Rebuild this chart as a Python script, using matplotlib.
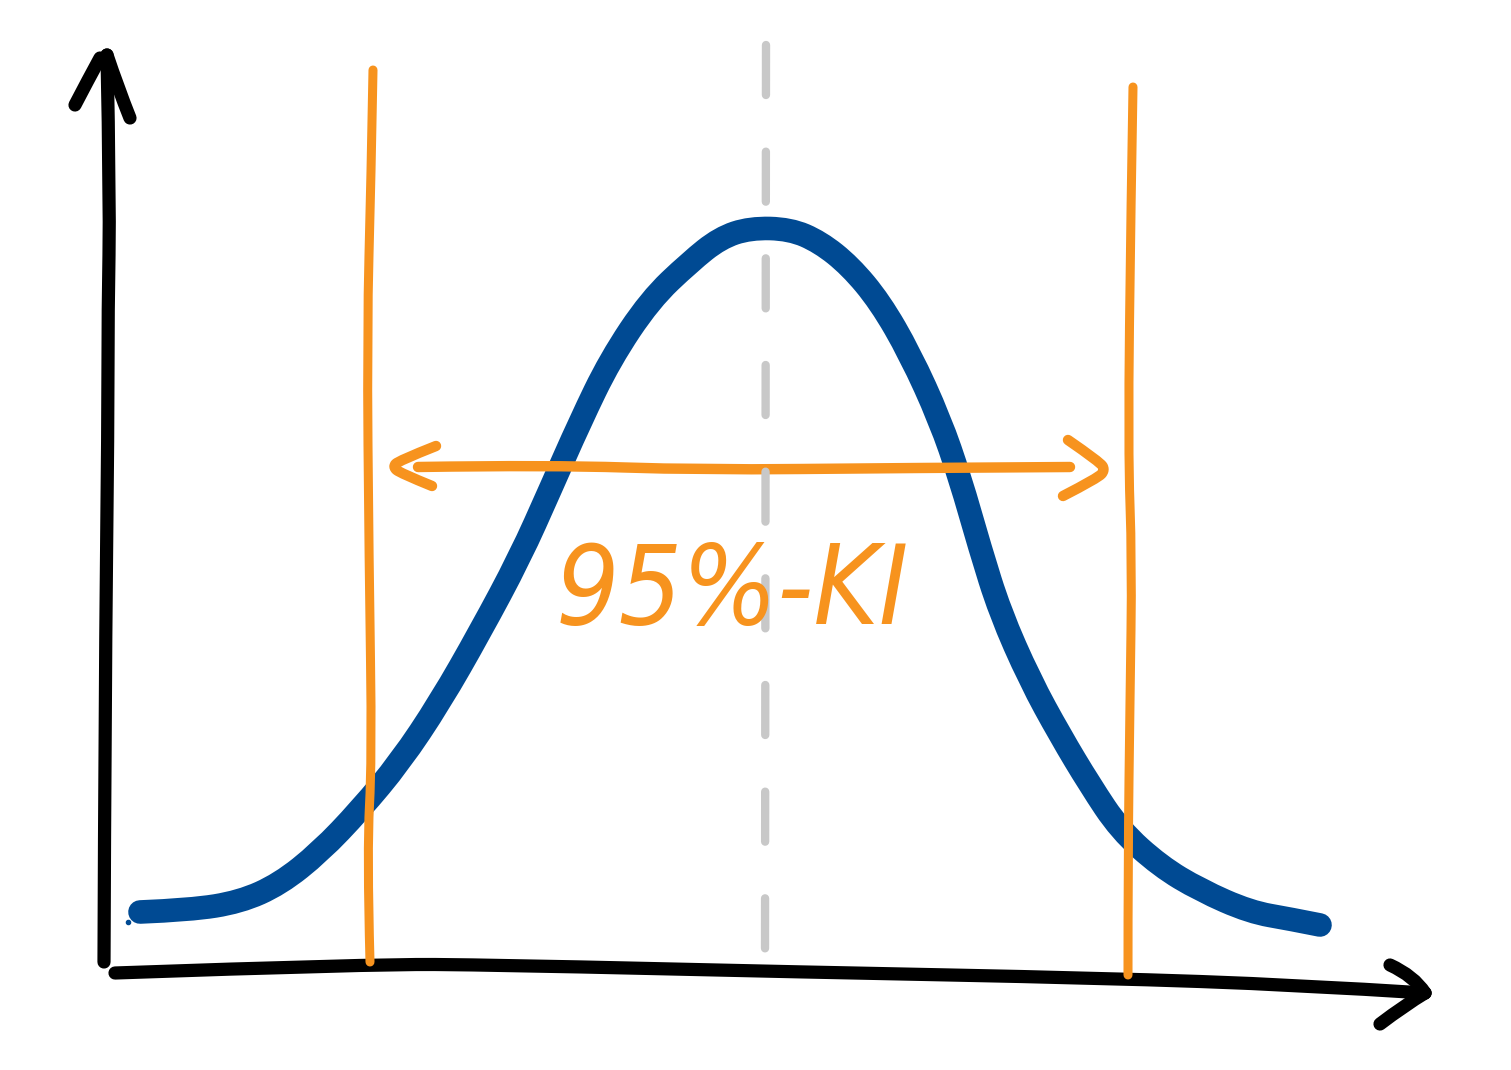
import matplotlib.pyplot as plt
from matplotlib.path import Path
from matplotlib.patches import PathPatch

# hand-sketched normal curve with a 95% confidence interval (sketch coordinates, y downwards)

curve_x = [140, 190, 240, 280, 320, 360, 400, 440, 480, 520, 550, 580, 610, 650, 690, 720,
           750, 790, 820, 850, 880, 910, 940, 960, 980, 1000, 1030, 1060, 1090, 1120, 1160,
           1200, 1250, 1290, 1320]
curve_y = [912, 910, 902, 884, 852, 810, 762, 702, 632, 557, 490, 422, 360, 300, 262, 238,
           228, 229, 242, 266, 302, 354, 420, 478, 548, 612, 680, 735, 785, 830, 866,
           890, 912, 919, 925]

yaxis_x = [104, 105, 108, 108, 110, 107]
yaxis_y = [962, 700, 420, 310, 200, 55]
xaxis_x = [115, 370, 500, 800, 1100, 1300, 1425]
xaxis_y = [973, 964, 965, 972, 978, 985, 993]

ci_left_x = [373, 371, 367, 369, 372, 367, 370]
ci_left_y = [70, 180, 330, 560, 760, 850, 962]
ci_right_x = [1133, 1131, 1128, 1132, 1130, 1128, 1128]
ci_right_y = [87, 200, 450, 560, 700, 860, 975]

mean_x = [766, 765]
mean_y = [45, 962]

span_x = [418, 550, 700, 900, 1070]
span_y = [467, 465, 470, 468, 467]

label = '95%-KI'

ORANGE = '#F7931E'
BLUE = '#004A93'
GREY = '#C8C8C8'


def stroke(ax, xs, ys, color, lw):
    # quadratic bezier through the midpoints, like a pen stroke
    pts = list(zip(xs, ys))
    verts = [pts[0]]
    codes = [Path.MOVETO]
    if len(pts) == 2:
        verts.append(pts[1])
        codes.append(Path.LINETO)
    else:
        for i in range(1, len(pts) - 1):
            if i == len(pts) - 2:
                end = pts[i + 1]
            else:
                end = ((pts[i][0] + pts[i + 1][0]) / 2, (pts[i][1] + pts[i + 1][1]) / 2)
            verts += [pts[i], end]
            codes += [Path.CURVE3, Path.CURVE3]
    patch = PathPatch(Path(verts, codes), fill=False, edgecolor=color, lw=lw,
                      capstyle='round', joinstyle='round')
    ax.add_patch(patch)


def main():
    fig = plt.figure(figsize=(15.11, 10.70), dpi=100)
    ax = fig.add_axes([0, 0, 1, 1])
    ax.set_xlim(0, 1511)
    ax.set_ylim(1070, 0)
    ax.axis('off')

    # mean line
    ax.plot(mean_x, mean_y, color=GREY, lw=6, linestyle=(0, (6.0, 6.8)),
            dash_capstyle='round')

    # axes with arrow heads
    stroke(ax, yaxis_x, yaxis_y, 'black', 9.5)
    stroke(ax, [75, 88, 100], [105, 80, 58], 'black', 9.5)
    stroke(ax, [107, 118, 130], [55, 88, 118], 'black', 9.5)
    stroke(ax, xaxis_x, xaxis_y, 'black', 9.5)
    stroke(ax, [1390, 1414, 1425], [965, 976, 993], 'black', 9.5)
    stroke(ax, [1425, 1405, 1380], [993, 1005, 1024], 'black', 9.5)

    # density curve
    stroke(ax, curve_x, curve_y, BLUE, 17)
    ax.plot([128], [922], 'o', color=BLUE, ms=3)

    # interval bounds
    stroke(ax, ci_left_x, ci_left_y, ORANGE, 6.5)
    stroke(ax, ci_right_x, ci_right_y, ORANGE, 6.5)

    # double arrow
    stroke(ax, span_x, span_y, ORANGE, 7.5)
    stroke(ax, [436, 398, 393, 400, 432], [446, 461, 467, 473, 486], ORANGE, 7.5)
    stroke(ax, [1068, 1100, 1105, 1098, 1063], [440, 462, 470, 478, 496], ORANGE, 7.5)

    ax.text(732, 594, label, color=ORANGE, fontsize=80, fontstyle='italic',
            fontstretch='condensed',
            ha='center', va='center', family='DejaVu Sans')

    fig.savefig('out.png', dpi=100)


if __name__ == "__main__":
    main()
